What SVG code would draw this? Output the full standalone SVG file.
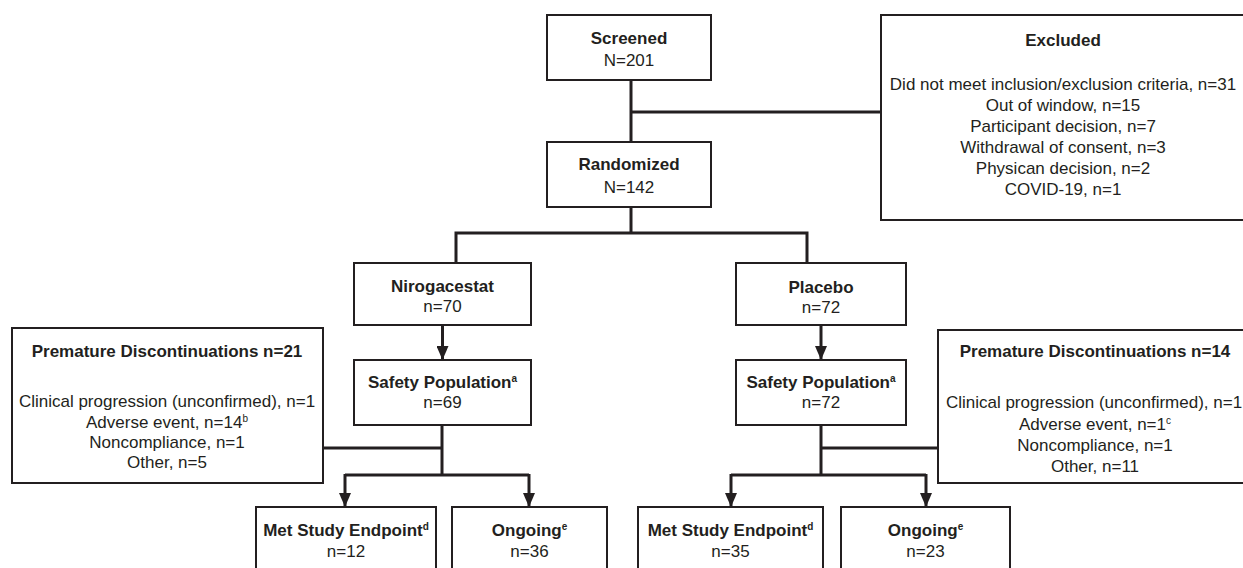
<svg xmlns="http://www.w3.org/2000/svg" width="1243" height="568" viewBox="0 0 1243 568">
<style>
.box{fill:#fff;stroke:#231f20;stroke-width:2}
.ln{fill:none;stroke:#231f20;stroke-width:3}
text{font-family:"Liberation Sans",Arial,Helvetica,sans-serif;font-size:17px;fill:#231f20;text-anchor:middle}
.b{font-weight:bold}
.sup{font-size:10px}
</style>
<defs>
<marker id="ah" markerUnits="userSpaceOnUse" markerWidth="14" markerHeight="12" viewBox="0 0 14 12" refX="14" refY="6" orient="auto">
<path d="M0,0 L14,6 L0,12 Z" fill="#231f20"/>
</marker>
</defs>
<rect width="1243" height="568" fill="#fff"/>
<g id="connectors">
<path class="ln" d="M631,80 V142"/>
<path class="ln" d="M631,112 H881"/>
<path class="ln" d="M631,207 V233"/>
<path class="ln" d="M456,263 V233 H807 V263"/>
<path class="ln" d="M442.5,325 V360" marker-end="url(#ah)"/>
<path class="ln" d="M821,325 V360" marker-end="url(#ah)"/>
<path class="ln" d="M442,425 V475"/>
<path class="ln" d="M323,448 H442"/>
<path class="ln" d="M345,475 H529"/>
<path class="ln" d="M345,474 V507" marker-end="url(#ah)"/>
<path class="ln" d="M529,474 V507" marker-end="url(#ah)"/>
<path class="ln" d="M821,425 V475"/>
<path class="ln" d="M821,448 H938"/>
<path class="ln" d="M731,475 H926"/>
<path class="ln" d="M731,474 V507" marker-end="url(#ah)"/>
<path class="ln" d="M926,474 V507" marker-end="url(#ah)"/>
</g>
<g id="screened">
<rect class="box" x="547" y="15" width="164" height="65"/>
<text class="b" x="629" y="43.5">Screened</text>
<text x="629" y="66">N=201</text>
</g>
<g id="excluded">
<rect class="box" x="881" y="15" width="370" height="205"/>
<text class="b" x="1063" y="45.5">Excluded</text>
<text x="1063" y="89.5">Did not meet inclusion/exclusion criteria, n=31</text>
<text x="1063" y="110.5">Out of window, n=15</text>
<text x="1063" y="131.5">Participant decision, n=7</text>
<text x="1063" y="152.5">Withdrawal of consent, n=3</text>
<text x="1063" y="173.5">Physican decision, n=2</text>
<text x="1063" y="194.5">COVID-19, n=1</text>
</g>
<g id="randomized">
<rect class="box" x="547" y="142" width="164" height="65"/>
<text class="b" x="629" y="170">Randomized</text>
<text x="629" y="192.5">N=142</text>
</g>
<g id="nirogacestat">
<rect class="box" x="354" y="263" width="177" height="62"/>
<text class="b" x="442.5" y="292">Nirogacestat</text>
<text x="442.5" y="312.3">n=70</text>
</g>
<g id="placebo">
<rect class="box" x="736" y="263" width="170" height="62"/>
<text class="b" x="821" y="293">Placebo</text>
<text x="821" y="313">n=72</text>
</g>
<g id="safety-nirogacestat">
<rect class="box" x="354" y="360" width="177" height="65"/>
<text class="b" x="442.5" y="388.3">Safety Population<tspan class="sup" dy="-6">a</tspan></text>
<text x="442.5" y="407.7">n=69</text>
</g>
<g id="safety-placebo">
<rect class="box" x="736" y="360" width="170" height="65"/>
<text class="b" x="821" y="388.3">Safety Population<tspan class="sup" dy="-6">a</tspan></text>
<text x="821" y="407.7">n=72</text>
</g>
<g id="discontinuations-nirogacestat">
<rect class="box" x="12" y="328" width="311" height="155"/>
<text class="b" x="167" y="357.3">Premature Discontinuations n=21</text>
<text x="167" y="407">Clinical progression (unconfirmed), n=1</text>
<text x="167" y="427.5">Adverse event, n=14<tspan class="sup" dy="-6">b</tspan></text>
<text x="167" y="448">Noncompliance, n=1</text>
<text x="167" y="468.3">Other, n=5</text>
</g>
<g id="discontinuations-placebo">
<rect class="box" x="938" y="330" width="320" height="153"/>
<text class="b" x="1095" y="357">Premature Discontinuations n=14</text>
<text x="1094" y="408.3">Clinical progression (unconfirmed), n=1</text>
<text x="1095" y="429.5">Adverse event, n=1<tspan class="sup" dy="-6">c</tspan></text>
<text x="1095" y="450.5">Noncompliance, n=1</text>
<text x="1095" y="471.5">Other, n=11</text>
</g>
<g id="endpoint-nirogacestat">
<rect class="box" x="256" y="507" width="180" height="80"/>
<text class="b" x="346" y="536">Met Study Endpoint<tspan class="sup" dy="-6">d</tspan></text>
<text x="346" y="557.3">n=12</text>
</g>
<g id="ongoing-nirogacestat">
<rect class="box" x="452" y="507" width="155" height="80"/>
<text class="b" x="529.5" y="536">Ongoing<tspan class="sup" dy="-6">e</tspan></text>
<text x="529.5" y="557.3">n=36</text>
</g>
<g id="endpoint-placebo">
<rect class="box" x="638" y="507" width="185" height="80"/>
<text class="b" x="730.5" y="536">Met Study Endpoint<tspan class="sup" dy="-6">d</tspan></text>
<text x="730.5" y="557.3">n=35</text>
</g>
<g id="ongoing-placebo">
<rect class="box" x="841" y="507" width="169" height="80"/>
<text class="b" x="925.5" y="536">Ongoing<tspan class="sup" dy="-6">e</tspan></text>
<text x="925.5" y="557.3">n=23</text>
</g>
</svg>
